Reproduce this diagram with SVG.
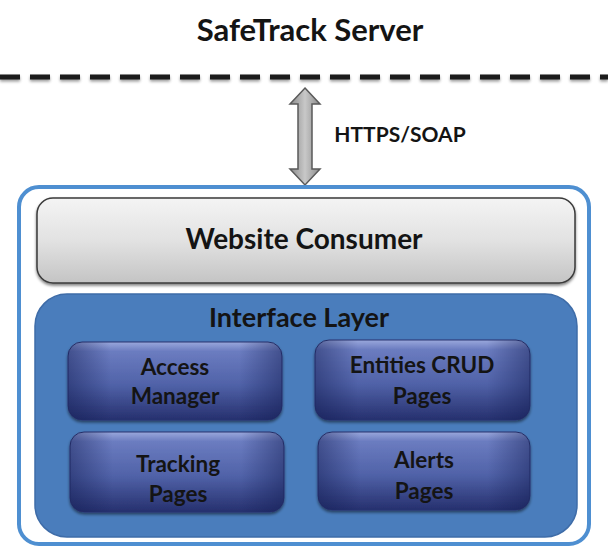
<svg xmlns="http://www.w3.org/2000/svg" width="608" height="547" viewBox="0 0 608 547">
<style>
.t{font-family:Lato,"Open Sans","Liberation Sans",sans-serif;font-weight:bold;fill:#141414;text-anchor:middle}
.inner{stroke:#2a3570;stroke-width:1}
</style>
<defs>
<linearGradient id="gray" x1="0" y1="0" x2="0" y2="1">
<stop offset="0" stop-color="#f4f4f4"/><stop offset="0.5" stop-color="#e2e2e2"/><stop offset="1" stop-color="#c4c4c4"/>
</linearGradient>
<linearGradient id="navy" x1="0" y1="0" x2="0" y2="1">
<stop offset="0" stop-color="#9aa8dc"/><stop offset="0.12" stop-color="#6b7cc0"/><stop offset="0.55" stop-color="#5062a8"/><stop offset="1" stop-color="#26306e"/>
</linearGradient>
<linearGradient id="side" x1="0" y1="0" x2="1" y2="0">
<stop offset="0" stop-color="#101a50" stop-opacity="0.45"/><stop offset="0.2" stop-color="#101a50" stop-opacity="0"/><stop offset="0.8" stop-color="#101a50" stop-opacity="0"/><stop offset="1" stop-color="#101a50" stop-opacity="0.45"/>
</linearGradient>
<linearGradient id="arrowg" x1="0" y1="0" x2="1" y2="0">
<stop offset="0" stop-color="#8a8a8a"/><stop offset="0.5" stop-color="#c8c8c8"/><stop offset="1" stop-color="#8a8a8a"/>
</linearGradient>
<filter id="sh" x="-10%" y="-10%" width="120%" height="130%">
<feGaussianBlur in="SourceAlpha" stdDeviation="1.5"/><feOffset dy="2"/>
<feComponentTransfer><feFuncA type="linear" slope="0.5"/></feComponentTransfer>
<feMerge><feMergeNode/><feMergeNode in="SourceGraphic"/></feMerge>
</filter>
<filter id="lsh" filterUnits="userSpaceOnUse" x="-10" y="60" width="630" height="40">
<feGaussianBlur in="SourceAlpha" stdDeviation="1.5"/><feOffset dy="2"/>
<feComponentTransfer><feFuncA type="linear" slope="0.4"/></feComponentTransfer>
<feMerge><feMergeNode/><feMergeNode in="SourceGraphic"/></feMerge>
</filter>
</defs>
<rect width="608" height="547" fill="#ffffff"/>
<g id="server">
<text class="t" x="310" y="41" font-size="31">SafeTrack Server</text>
<path d="M0,77 H608" stroke="#1a1a1a" stroke-width="5" stroke-dasharray="20,10" filter="url(#lsh)"/>
</g>
<g id="connectors">
<path d="M305,88 L320,104 L312,104 L312,169 L320,169 L305,185 L290,169 L298,169 L298,104 L290,104 Z" fill="url(#arrowg)" stroke="#5a5a5a" stroke-width="1.5"/>
<text class="t" x="400" y="142" font-size="21">HTTPS/SOAP</text>
</g>
<g id="outer">
<rect x="19" y="187" width="570" height="357" rx="20" fill="#ffffff" stroke="#4e8fd1" stroke-width="4"/>
</g>
<g id="website-consumer">
<rect x="37" y="198" width="538" height="85" rx="16" fill="url(#gray)" stroke="#3a3a3a" stroke-width="1.5" filter="url(#sh)"/>
<text class="t" x="304" y="249" font-size="28">Website Consumer</text>
</g>
<g id="interface-layer">
<rect x="35" y="294" width="542" height="243" rx="32" fill="#4a7dbc" stroke="#3e6ca8" stroke-width="1.5"/>
<text class="t" x="299" y="327" font-size="27">Interface Layer</text>
</g>
<g id="access-manager">
<rect class="inner" x="68" y="342" width="214" height="78" rx="14" fill="url(#navy)" filter="url(#sh)"/>
<rect x="68" y="342" width="214" height="78" rx="14" fill="url(#side)"/>
<text class="t" x="175" y="375" font-size="22.5">Access</text>
<text class="t" x="175" y="404" font-size="22.5">Manager</text>
</g>
<g id="entities-crud">
<rect class="inner" x="315" y="340" width="215" height="80" rx="14" fill="url(#navy)" filter="url(#sh)"/>
<rect x="315" y="340" width="215" height="80" rx="14" fill="url(#side)"/>
<text class="t" x="422" y="373" font-size="22.5">Entities CRUD</text>
<text class="t" x="422" y="404" font-size="22.5">Pages</text>
</g>
<g id="tracking-pages">
<rect class="inner" x="70" y="432" width="214" height="80" rx="14" fill="url(#navy)" filter="url(#sh)"/>
<rect x="70" y="432" width="214" height="80" rx="14" fill="url(#side)"/>
<text class="t" x="178" y="472" font-size="22.5">Tracking</text>
<text class="t" x="178" y="502" font-size="22.5">Pages</text>
</g>
<g id="alerts-pages">
<rect class="inner" x="318" y="432" width="212" height="78" rx="14" fill="url(#navy)" filter="url(#sh)"/>
<rect x="318" y="432" width="212" height="78" rx="14" fill="url(#side)"/>
<text class="t" x="424" y="468" font-size="22.5">Alerts</text>
<text class="t" x="424" y="499" font-size="22.5">Pages</text>
</g>
</svg>
